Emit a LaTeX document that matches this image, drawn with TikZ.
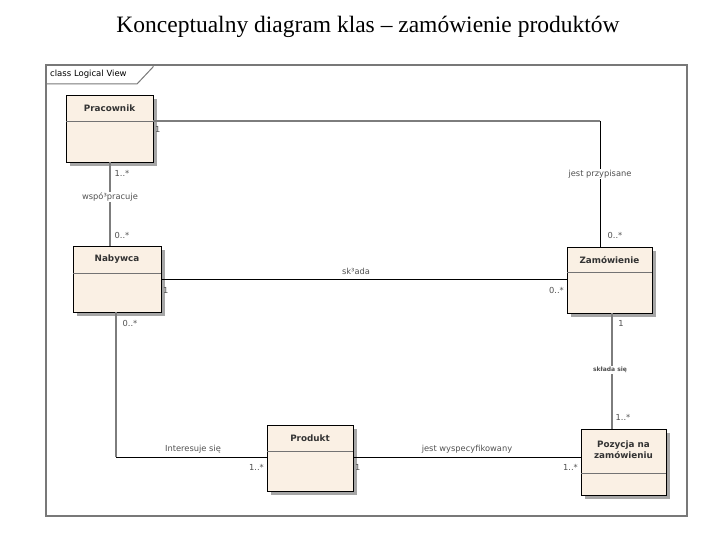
\documentclass[tikz,border=0pt]{standalone}
\usepackage{fontspec}
\setmainfont{DejaVu Sans}
\newfontfamily\titlefont{Liberation Serif}
\definecolor{boxfill}{RGB}{250,240,228}
\definecolor{framegray}{RGB}{120,120,120}
\definecolor{linegray}{RGB}{125,125,125}
\definecolor{labgray}{RGB}{80,80,80}
\begin{document}
\begin{tikzpicture}[x=1pt,y=-1pt,
  lab/.style={font=\fontsize{8.3}{10}\selectfont, text=labgray, inner sep=0pt},
  cname/.style={font=\fontsize{8.8}{11}\selectfont\bfseries, text=black!80, align=center, inner sep=0pt},
  grayline/.style={draw=linegray, line width=1.4pt},
  blackline/.style={draw=black, line width=0.8pt}]
\useasboundingbox (0,0) rectangle (720,540);
% title
\node[font=\titlefont\fontsize{23.5}{26}\selectfont] (title) at (368,27) {Konceptualny diagram klas – zamówienie produktów};
% frame
\draw[framegray, line width=1.2pt] (46,65) rectangle (687,516);
\draw[framegray, line width=1pt] (46,84) -- (137,84) -- (153,67) -- (153,65);
\node[font=\fontsize{8.5}{10}\selectfont, anchor=west, inner sep=0pt] (frametitle) at (50,74) {class Logical View};
% classes
\newcommand{\umlbox}[6]{% name, x1,y1,x2,y2, header y
  \fill[black!35] (#2+4,#3+4) rectangle (#4+4,#5+4);
  \draw[fill=boxfill, line width=0.8pt] (#2,#3) rectangle (#4,#5);
  \draw[draw=black!55, line width=1pt] (#2,#6) -- (#4,#6);
  \coordinate (#1nw) at (#2,#3);
}
\umlbox{prac}{66}{95}{153}{162}{122}
\umlbox{nab}{73}{246}{161}{312}{273}
\umlbox{zam}{567}{247}{652}{313}{272}
\umlbox{prod}{267}{425}{353}{491}{451}
\umlbox{poz}{581}{429}{666}{495}{473}
\node[cname] (pracn) at (109.5,108) {Pracownik};
\node[cname] (nabn) at (117,259.5) {Nabywca};
\node[cname] (zamn) at (609.5,260) {Zamówienie};
\node[cname] (prodn) at (310,438) {Produkt};
\node[cname] (pozn) at (623.5,450) {Pozycja na\\zamówieniu};
% anchors for connectors
\coordinate (pR) at (153,121);
\coordinate (pB) at (110,162);
\coordinate (nT) at (110,246);
\coordinate (nR) at (161,279);
\coordinate (nB) at (116,312);
\coordinate (zT) at (600,247);
\coordinate (zL) at (567,279);
\coordinate (zB) at (612,313);
\coordinate (qT) at (612,429);
\coordinate (qL) at (581,457);
\coordinate (dL) at (267,457);
\coordinate (dR) at (353,457);
\coordinate (c1) at (600,121);
\coordinate (c2) at (116,457);
% connectors
\draw[grayline] (pR) -- (c1);
\draw[blackline] (c1) -- (zT);
\draw[grayline] (pB) -- (nT);
\draw[blackline] (nR) -- (zL);
\draw[grayline] (zB) -- (qT);
\draw[grayline] (nB) -- (c2);
\draw[blackline] (c2) -- (dL);
\draw[blackline] (dR) -- (qL);
% labels
\node[lab, anchor=west] (l1) at (155,129) {1};
\node[lab, fill=white, inner sep=1pt] (l2) at (600,174) {jest przypisane};
\node[lab] (l3) at (615,235) {0..*};
\node[lab] (l4) at (122,173) {1..*};
\node[lab, fill=white, inner sep=1pt] (l5) at (110,197) {wspó³pracuje};
\node[lab] (l6) at (122,235) {0..*};
\node[lab] (l7) at (356,271) {sk³ada};
\node[lab, anchor=west] (l8) at (163,290) {1};
\node[lab, anchor=east] (l9) at (564,290) {0..*};
\node[lab] (l10) at (621,323) {1};
\node[lab, fill=white, inner sep=1pt, font=\fontsize{6}{7}\selectfont\bfseries] (l11) at (610,370) {składa się};
\node[lab] (l12) at (623,417) {1..*};
\node[lab] (l13) at (130,323) {0..*};
\node[lab] (l14) at (193,449) {Interesuje się};
\node[lab, anchor=east] (l15) at (264,467) {1..*};
\node[lab, anchor=west] (l16) at (355,467) {1};
\node[lab] (l17) at (467,449) {jest wyspecyfikowany};
\node[lab, anchor=east] (l18) at (578,467) {1..*};
\end{tikzpicture}
\end{document}
